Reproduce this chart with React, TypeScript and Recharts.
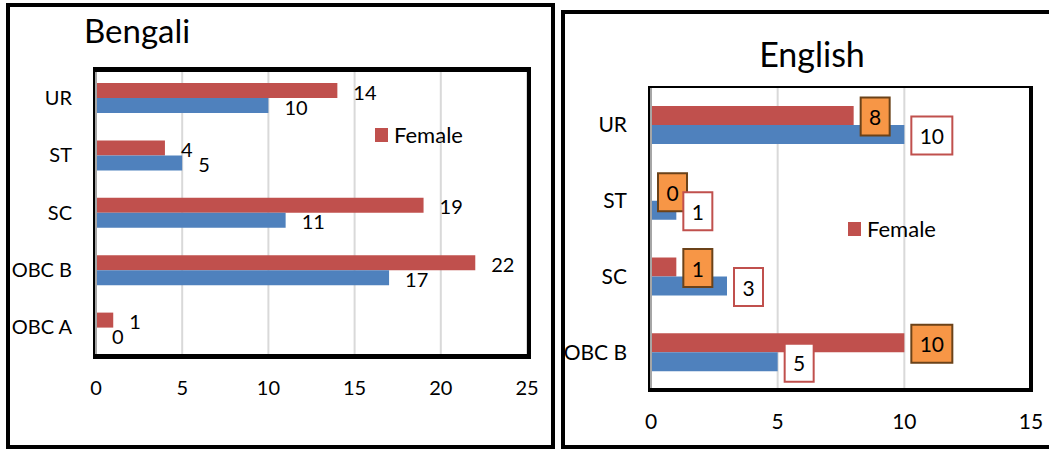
import React from "react";
import { Bar, BarChart, CartesianGrid, LabelList, Legend, XAxis, YAxis } from "recharts";

const FONT = "Lato, 'Open Sans', sans-serif";
const RED = "#C0504D";
const BLUE = "#4F81BD";
const ORANGE = "#F79646";
const GRID = "#D9D9D9";

// Bengali panel
const bengaliCategories = ["UR", "ST", "SC", "OBC B", "OBC A"];
const bengaliFemale = [14, 4, 19, 22, 1];
const bengaliMale = [10, 5, 11, 17, 0];
const bengaliTicks = [0, 5, 10, 15, 20, 25];

// English panel
const englishCategories = ["UR", "ST", "SC", "OBC B"];
const englishFemale = [8, 0, 1, 10];
const englishMale = [10, 1, 3, 5];
const englishTicks = [0, 5, 10, 15];

const bengaliRows = bengaliCategories.map((category, i) => ({
  category,
  Female: bengaliFemale[i],
  Male: bengaliMale[i],
}));

const englishRows = englishCategories.map((category, i) => ({
  category,
  Female: englishFemale[i],
  Male: englishMale[i],
}));

function FemaleLegend({ size }: { size: number }) {
  return (
    <div style={{ display: "flex", alignItems: "center", fontFamily: FONT, fontSize: size, color: "#000" }}>
      <span style={{ width: 13, height: 14, background: RED, marginRight: 6, display: "inline-block" }} />
      <span>Female</span>
    </div>
  );
}

// boxed data label used on the English panel
function boxLabel(fill: string, stroke: string) {
  return (props: any) => {
    const { x, y, width, height, value } = props;
    const text = String(value);
    const w = 17 + 12 * text.length;
    const h = 38;
    const bx = Number(x) + Number(width) + 7;
    const cy = Number(y) + Number(height) / 2 + 1;
    return (
      <g>
        <rect x={bx} y={cy - h / 2} width={w} height={h} fill={fill} stroke={stroke} strokeWidth={2} />
        <text
          x={bx + w / 2}
          y={cy}
          textAnchor="middle"
          dominantBaseline="central"
          fontSize={21}
          fontFamily={FONT}
          fill="#000"
        >
          {text}
        </text>
      </g>
    );
  };
}

const tick20 = { fontSize: 20, fill: "#000", fontFamily: FONT };
const tick21 = { fontSize: 21, fill: "#000", fontFamily: FONT };

export default function App() {
  return (
    <div style={{ position: "absolute", left: 0, top: 0, width: 1049, height: 450, overflow: "hidden", background: "#fff" }}>
      {/* Bengali */}
      <div style={{ position: "absolute", left: 0, top: 0 }}>
        <BarChart
          layout="vertical"
          width={560}
          height={450}
          data={bengaliRows}
          margin={{ top: 69, right: 33, bottom: 64, left: 0 }}
          barGap={0}
          barSize={15}
        >
          <CartesianGrid horizontal={false} stroke={GRID} strokeWidth={2} />
          <XAxis
            type="number"
            domain={[0, 25]}
            ticks={bengaliTicks}
            interval={0}
            axisLine={false}
            tickLine={false}
            tickMargin={19}
            height={30}
            tick={tick20}
          />
          <YAxis
            type="category"
            dataKey="category"
            width={96}
            axisLine={{ stroke: "#A6A6A6", strokeWidth: 2 }}
            tickLine={false}
            tickMargin={18}
            tick={tick20}
          />
          <Legend
            verticalAlign="middle"
            content={() => <FemaleLegend size={22} />}
            wrapperStyle={{ left: 375, top: 121, width: "auto" }}
          />
          <Bar dataKey="Female" fill={RED} minPointSize={0.01} isAnimationActive={false}>
            <LabelList dataKey="Female" position="right" offset={16} dy={2} fill="#000" fontSize={20} fontFamily={FONT} />
          </Bar>
          <Bar dataKey="Male" fill={BLUE} minPointSize={0.01} isAnimationActive={false}>
            <LabelList dataKey="Male" position="right" offset={16} dy={2} fill="#000" fontSize={20} fontFamily={FONT} />
          </Bar>
        </BarChart>
      </div>

      {/* English */}
      <div style={{ position: "absolute", left: 560, top: 0 }}>
        <BarChart
          layout="vertical"
          width={489}
          height={450}
          data={englishRows}
          margin={{ top: 87, right: 18, bottom: 30, left: 0 }}
          barGap={0}
          barSize={19}
        >
          <CartesianGrid horizontal={false} stroke={GRID} strokeWidth={2} />
          <XAxis
            type="number"
            domain={[0, 15]}
            ticks={englishTicks}
            interval={0}
            axisLine={false}
            tickLine={false}
            tickMargin={18}
            height={30}
            tick={tick21}
          />
          <YAxis
            type="category"
            dataKey="category"
            width={91}
            axisLine={{ stroke: "#A6A6A6", strokeWidth: 2 }}
            tickLine={false}
            tickMargin={18}
            tick={tick21}
          />
          <Legend
            verticalAlign="middle"
            content={() => <FemaleLegend size={22} />}
            wrapperStyle={{ left: 288, top: 215, width: "auto" }}
          />
          <Bar dataKey="Female" fill={RED} minPointSize={0.01} isAnimationActive={false}>
            <LabelList dataKey="Female" content={boxLabel(ORANGE, "#6B4219")} />
          </Bar>
          <Bar dataKey="Male" fill={BLUE} minPointSize={0.01} isAnimationActive={false}>
            <LabelList dataKey="Male" content={boxLabel("#fff", RED)} />
          </Bar>
        </BarChart>
      </div>

      {/* plot-area frames */}
      <div style={{ position: "absolute", left: 93, top: 67, width: 438, height: 292, boxSizing: "border-box", borderTop: "5px solid #000", borderRight: "4px solid #000", borderBottom: "5px solid #000", borderLeft: "2px solid #000", pointerEvents: "none" }} />
      <div style={{ position: "absolute", left: 648, top: 86, width: 385, height: 306, boxSizing: "border-box", borderTop: "2px solid #000", borderRight: "4px solid #000", borderBottom: "4px solid #000", borderLeft: "2px solid #000", pointerEvents: "none" }} />

      {/* panel frames */}
      <div style={{ position: "absolute", left: 6, top: 3, width: 549, height: 446, boxSizing: "border-box", border: "4px solid #000", pointerEvents: "none" }} />
      <div style={{ position: "absolute", left: 561, top: 10, width: 495, height: 439, boxSizing: "border-box", border: "4px solid #000", pointerEvents: "none" }} />

      {/* titles */}
      <svg width={1049} height={450} style={{ position: "absolute", left: 0, top: 0, pointerEvents: "none" }}>
        <text x={84} y={43} fontSize={33} fontFamily={FONT} fill="#000">Bengali</text>
        <text x={812} y={67} fontSize={34} fontFamily={FONT} fill="#000" textAnchor="middle">English</text>
      </svg>
    </div>
  );
}
